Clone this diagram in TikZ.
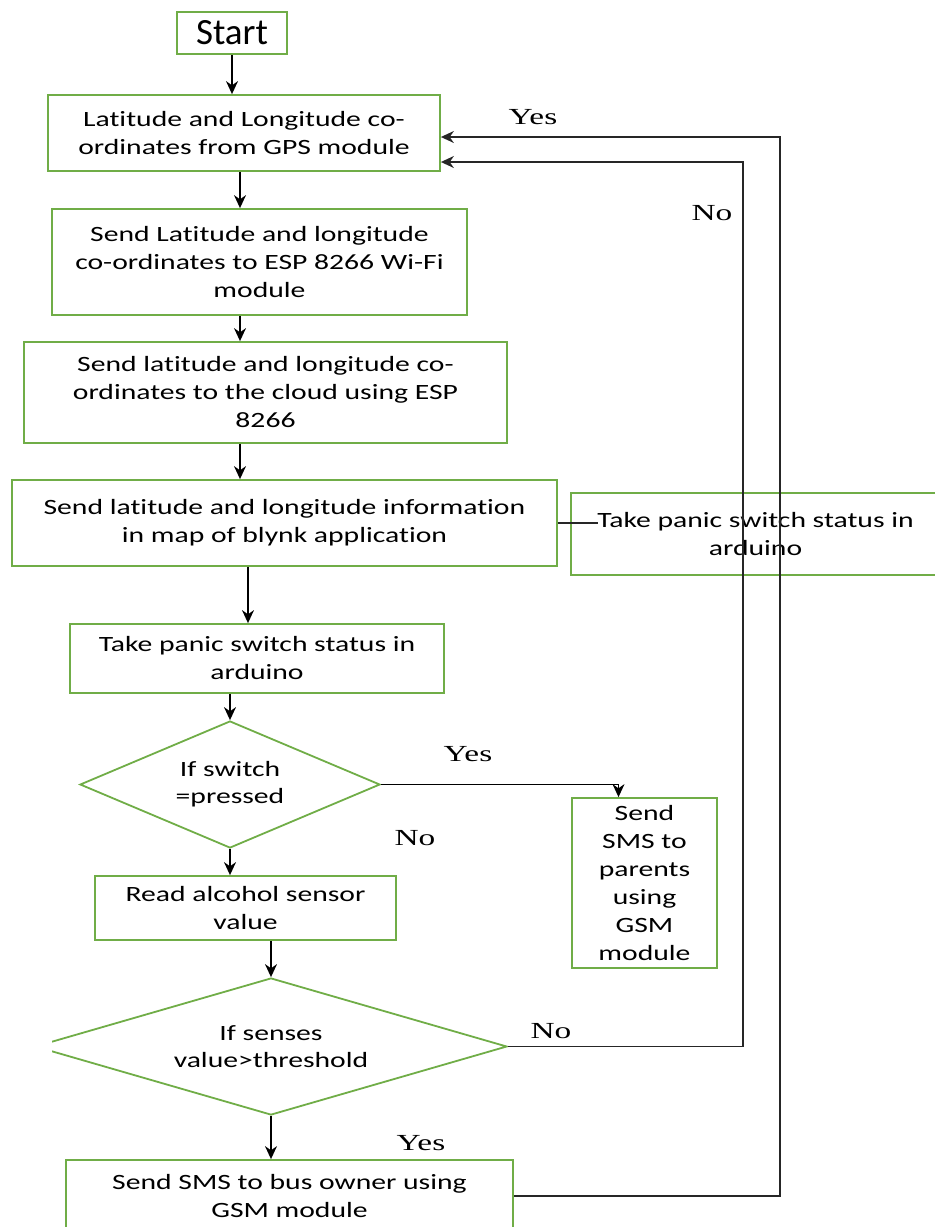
\documentclass[tikz,border=0pt]{standalone}
\usepackage{fontspec}
\setmainfont{Carlito}
\newfontfamily\boxfont{Carlito}[FakeStretch=1.36, Ligatures=CommonOff]
\newfontfamily\answerfont{Liberation Serif}[FakeStretch=1.45]
\usepackage{tikz}
\usetikzlibrary{arrows.meta, shapes.geometric, positioning, calc}
\definecolor{boxgreen}{HTML}{70AD47}

\begin{document}
\begin{tikzpicture}[x=0.5pt, y=-0.5pt,
    flowbox/.style={draw=boxgreen, line width=0.9pt, align=center, inner sep=0pt,
        font=\boxfont\fontsize{10.9}{14}\selectfont},
    decide/.style={diamond, draw=boxgreen, line width=0.9pt, align=center, inner sep=0pt,
        font=\boxfont\fontsize{10.9}{13.5}\selectfont},
    flowarrow/.style={-{Stealth[length=6.5pt, width=6pt]}, line width=0.7pt},
    flowline/.style={line width=0.8pt, draw=black!85},
    answer/.style={font=\answerfont\fontsize{11.5}{13}\selectfont}]
    \useasboundingbox (0,0) rectangle (934,1227);

    % Main column of steps
    \node[flowbox, minimum width=55pt, minimum height=21pt,
        font=\fontsize{18.5}{20}\selectfont] (start) at (232,33) {Start};
    \node[flowbox, minimum width=196pt, minimum height=38pt] (gps) at (244,133)
        {Latitude and Longitude co-\\ordinates from GPS module};
    \node[flowbox, minimum width=207.5pt, minimum height=53pt] (wifi) at (259.5,262)
        {Send Latitude and longitude\\co-ordinates to ESP 8266 Wi-Fi\\module};
    \node[flowbox, minimum width=241.5pt, minimum height=50.5pt] (cloud) at (265.5,392.5)
        {Send latitude and longitude co-\\ordinates to the cloud using ESP\\8266};
    \node[flowbox, minimum width=272.5pt, minimum height=43pt] (blynk) at (284.5,523)
        {Send latitude and longitude information\\in map of blynk application};
    \node[flowbox, minimum width=184.5pt, minimum height=41pt] (panicside) at (755.5,534)
        {Take panic switch status in\\arduino};
    \node[flowbox, minimum width=187pt, minimum height=34.5pt] (panic) at (257,658.5)
        {Take panic switch status in\\arduino};
    \node[decide, aspect=2.36, minimum width=150pt, minimum height=63.5pt] (switch) at (230,784.5)
        {If switch\\=pressed};
    \node[flowbox, minimum width=72.5pt, minimum height=85pt] (parents) at (644.5,883)
        {Send\\SMS to\\parents\\using\\GSM\\module};
    \node[flowbox, minimum width=150.5pt, minimum height=32pt] (alcohol) at (245.5,908)
        {Read alcohol sensor\\value};
    \begin{scope}
        \clip (52,0) rectangle (934,1227);
        \node[decide, aspect=3.45, minimum width=236pt, minimum height=68.5pt] (sense) at (271,1046.5)
            {If senses\\value>threshold};
    \end{scope}
    \node[flowbox, minimum width=223.5pt, minimum height=36pt] (owner) at (289.5,1196)
        {Send SMS to bus owner using\\GSM module};

    % Columns and entry points of the connectors
    \coordinate (colA) at (232,0);
    \coordinate (colB) at (240,0);
    \coordinate (colC) at (248,0);
    \coordinate (retNo) at (743,0);
    \coordinate (retYes) at (780,0);
    \coordinate (inYes) at ([yshift=-2pt]gps.east);
    \coordinate (inNo) at ([yshift=-14.5pt]gps.east);
    \coordinate (toParents) at ([xshift=-13pt]parents.north);

    % Downward arrows
    \draw[flowarrow] (colA |- start.south) -- (colA |- gps.north);
    \draw[flowarrow] (colB |- gps.south) -- (colB |- wifi.north);
    \draw[flowarrow] (colB |- wifi.south) -- (colB |- cloud.north);
    \draw[flowarrow] (colB |- cloud.south) -- (colB |- blynk.north);
    \draw[flowarrow] (colC |- blynk.south) -- (colC |- panic.north);
    \draw[flowarrow] (switch.north |- panic.south) -- (switch.north);
    \draw[flowarrow] (switch.south) -- (switch.south |- alcohol.north);
    \draw[flowarrow] (sense.north |- alcohol.south) -- (sense.north);
    \draw[flowarrow] (sense.south) -- (sense.south |- owner.north);

    % Side branches
    \draw[flowline] (blynk.east) -- ++(20pt,0);
    \draw[flowarrow] (switch.east) -| (toParents);
    \draw[flowarrow, flowline] (sense.east) -- (sense.east -| retNo) -- (retNo |- inNo) -- (inNo);
    \draw[flowarrow, flowline] (owner.east) -- (owner.east -| retYes) -- (retYes |- inYes) -- (inYes);

    % Yes / No labels
    \node[answer] (yesTop) at (533,117) {Yes};
    \node[answer] (noTop) at (712,213) {No};
    \node[answer] (yesSwitch) at (468,754) {Yes};
    \node[answer] (noSwitch) at (415,838) {No};
    \node[answer] (noSense) at (551,1031) {No};
    \node[answer] (yesSense) at (421,1143) {Yes};
\end{tikzpicture}
\end{document}
